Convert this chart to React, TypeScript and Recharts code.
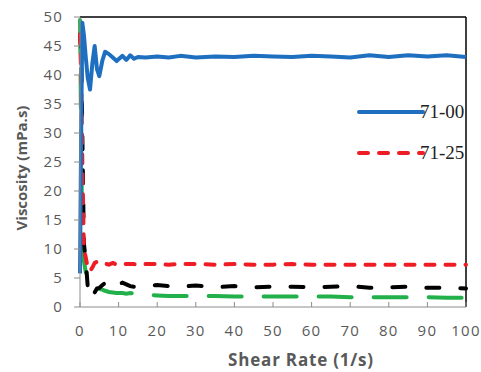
import React from 'react';
import { LineChart, Line, XAxis, YAxis, ReferenceLine } from 'recharts';

// shear rate (1/s) sampled points
const shearRate = [
  0, 0.3, 0.6, 1, 1.5, 2, 2.6, 3.2, 3.8, 4.4, 5, 5.8, 6.5, 7.5, 8.5, 9.5, 11, 12, 13, 14,
  15, 17, 20, 23, 26, 30, 35, 40, 45, 50, 55, 60, 65, 70, 75, 80, 85, 90, 95, 100,
];

// viscosity (mPa.s) per sample
const visc7100 = [
  5.8, 30, 49, 47, 43, 39.5, 37.5, 42, 45, 41, 39.8, 42.5, 44, 43.6, 43, 42.4, 43.3, 42.6, 43.4, 42.8,
  43.1, 43.0, 43.2, 43.0, 43.3, 43.0, 43.2, 43.1, 43.3, 43.2, 43.1, 43.3, 43.2, 43.0, 43.4, 43.1, 43.4, 43.2, 43.4, 43.1,
];
const visc7125 = [
  47, 40, 25, 10, 8.5, 6.8, 6.2, 6.8, 7.6, 7.8, 7.6, 7.4, 7.5, 7.3, 7.6, 7.3, 7.5, 7.4, 7.4, 7.4,
  7.3, 7.4, 7.4, 7.3, 7.4, 7.4, 7.3, 7.4, 7.3, 7.3, 7.4, 7.3, 7.3, 7.3, 7.3, 7.3, 7.3, 7.3, 7.3, 7.3,
];
const viscBlack = [
  47, 45, 30, 11, 8, 3.5, 1.8, 1.5, 2.5, 3.2, 3.3, 3.8, 4.1, 3.4, 3.3, 3.7, 4.2, 3.9, 3.6, 3.5,
  3.5, 3.6, 3.8, 3.6, 3.5, 3.7, 3.4, 3.6, 3.4, 3.5, 3.5, 3.4, 3.5, 3.6, 3.3, 3.4, 3.5, 3.3, 3.3, 3.2,
];
const viscGreen = [
  49.5, 30, 10, 8, 6, 5, 4.5, 4, 3.6, 3.3, 3.1, 3, 2.8, 2.6, 2.5, 2.4, 2.4, 2.3, 2.4, 2.3,
  2.2, 2.1, 2.0, 1.9, 1.9, 1.9, 1.9, 1.8, 1.8, 1.8, 1.8, 1.8, 1.8, 1.7, 1.7, 1.7, 1.7, 1.7, 1.6, 1.6,
];

const xTicks = [0, 10, 20, 30, 40, 50, 60, 70, 80, 90, 100];
const yTicks = [0, 5, 10, 15, 20, 25, 30, 35, 40, 45, 50];

const legendLabels = ['71-00', '71-25'];

const data = shearRate.map((x, i) => ({
  x,
  a: visc7100[i],
  b: visc7125[i],
  c: viscBlack[i],
  d: viscGreen[i],
}));

const tickStyle = { fontFamily: 'Open Sans', fontSize: 15, fill: '#595959', letterSpacing: 1.2 };
const titleStyle = { fontFamily: 'Open Sans', fontSize: 17, fontWeight: 700, fill: '#595959', letterSpacing: 0.8 };

const LegendBox = () => (
  <svg width={120} height={70} style={{ position: 'absolute', left: 355, top: 95 }}>
    <line x1={4} y1={17} x2={68} y2={17} stroke="#1f6fc0" strokeWidth={4} strokeLinecap="round" />
    <text x={65} y={23} fontFamily="Liberation Serif" fontSize={19} fill="#222">{legendLabels[0]}</text>
    <line x1={4} y1={58} x2={68} y2={58} stroke="#ee1c24" strokeWidth={4} strokeLinecap="round" strokeDasharray="9 11" />
    <text x={65} y={64} fontFamily="Liberation Serif" fontSize={19} fill="#222">{legendLabels[1]}</text>
  </svg>
);

const App: React.FC = () => {
  return (
    <div style={{ position: 'absolute', left: 0, top: 0, width: 481, height: 372, background: '#fff' }}>
      <LineChart width={481} height={372} data={data} margin={{ top: 17, right: 15, left: 0, bottom: 0 }}>
        <XAxis
          dataKey="x"
          type="number"
          domain={[0, 100]}
          ticks={xTicks}
          interval={0}
          height={65}
          tick={tickStyle}
          tickSize={-5}
          tickMargin={23}
          stroke="#8c8c8c"
          label={{ value: 'Shear Rate (1/s)', position: 'insideBottom', offset: 6, dx: 28, style: titleStyle }}
        />
        <YAxis
          type="number"
          domain={[0, 50]}
          ticks={yTicks}
          interval={0}
          width={80}
          tick={tickStyle}
          tickSize={6}
          tickMargin={11}
          stroke="#8c8c8c"
          label={{ value: 'Viscosity (mPa.s)', angle: -90, position: 'insideLeft', offset: 22, dy: 6, style: { ...titleStyle, fontSize: 15, letterSpacing: 0, textAnchor: 'middle' } }}
        />
        <ReferenceLine y={50} stroke="#000" strokeWidth={1.5} />
        <ReferenceLine x={100} stroke="#000" strokeWidth={1.5} />
        <Line dataKey="d" stroke="#22b04b" strokeWidth={4} strokeDasharray="33 22" strokeLinecap="round" dot={false} isAnimationActive={false} />
        <Line dataKey="c" stroke="#000" strokeWidth={4} strokeDasharray="13 21" strokeLinecap="round" dot={false} isAnimationActive={false} />
        <Line dataKey="b" stroke="#ee1c24" strokeWidth={4} strokeDasharray="9 11" strokeLinecap="round" dot={false} isAnimationActive={false} />
        <Line dataKey="a" stroke="#1f6fc0" strokeWidth={4} strokeLinejoin="round" dot={false} isAnimationActive={false} />
      </LineChart>
      <LegendBox />
    </div>
  );
};

export default App;
